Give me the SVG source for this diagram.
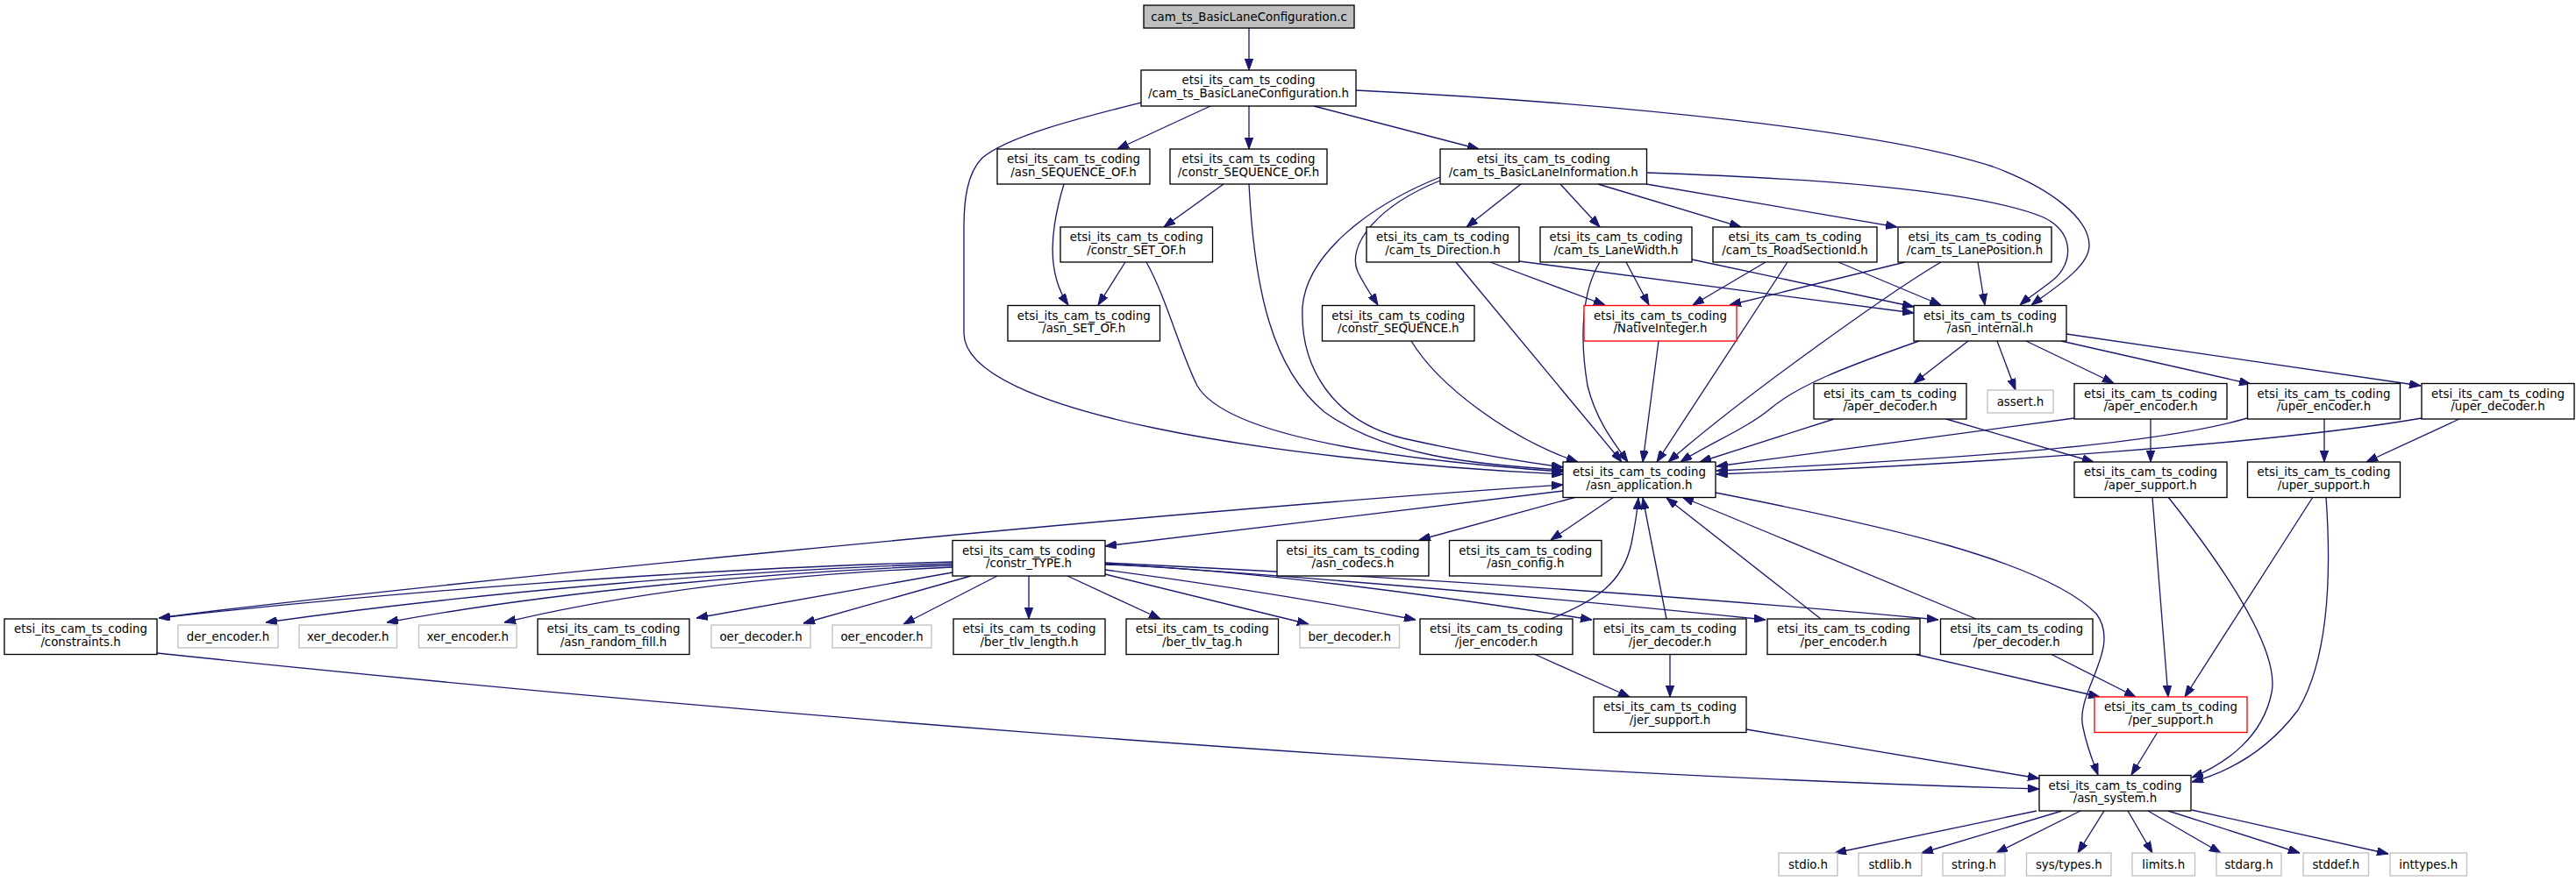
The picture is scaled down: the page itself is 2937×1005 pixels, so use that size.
<svg xmlns="http://www.w3.org/2000/svg" width="2937" height="1005" viewBox="0 0 2937 1005">
<style>
rect{fill:#fff;stroke:#000;stroke-width:1.33}
.gray rect{stroke:#bfbfbf}
.red rect{stroke:#ff0000}
.root rect{fill:#bfbfbf}
text{font-family:"DejaVu Sans",sans-serif;font-size:13.33px;text-anchor:middle;fill:#000}
#edges path{fill:none;stroke:#191970;stroke-width:1.33;marker-end:url(#ah)}
</style>
<defs>
<marker id="ah" viewBox="0 0 13 9.4" refX="13" refY="4.7" markerWidth="13" markerHeight="9.4" orient="auto" markerUnits="userSpaceOnUse"><path d="M0,0 L13,4.7 L0,9.4 Z" fill="#191970" stroke="#191970" stroke-width="1"/></marker>
</defs>
<rect x="0" y="0" width="2937" height="1005" style="fill:#fff;stroke:none"/>
<g id="edges">
<path d="M1424,32 L1424,80"/>
<path d="M1380,121 L1274,170"/>
<path d="M1424,121 L1424,170"/>
<path d="M1498,121 L1686,170"/>
<path d="M1301,117 C1230,135 1150,155 1120,180 C1102,198 1099,230 1099,260 L1099,380 C1099,470 1450,525 1782,541"/>
<path d="M1546,103 C1850,118 2150,150 2272,190 C2340,215 2382,250 2382,280 C2382,305 2340,330 2316,348"/>
<path d="M1213,210 C1198,260 1192,310 1218,348"/>
<path d="M1395,210 L1327,259"/>
<path d="M1424,210 C1430,330 1450,420 1510,470 C1580,520 1680,530 1782,536"/>
<path d="M1283,299 L1252,348"/>
<path d="M1307,299 C1330,340 1345,400 1365,440 C1400,500 1600,525 1782,538"/>
<path d="M1642,202 C1560,235 1490,290 1485,350 C1482,420 1520,480 1600,500 C1680,518 1730,526 1782,533"/>
<path d="M1642,206 C1570,235 1535,280 1548,310 C1558,330 1566,340 1571,348"/>
<path d="M1734,210 L1672,259"/>
<path d="M1779,210 L1824,259"/>
<path d="M1822,210 L1985,259"/>
<path d="M1877,210 L2163,259"/>
<path d="M1877,197 C2050,203 2250,215 2330,248 C2365,265 2365,300 2340,320 C2325,332 2312,340 2303,348"/>
<path d="M1699,299 L1830,348"/>
<path d="M1732,298 L2182,357"/>
<path d="M1660,299 L1849,527"/>
<path d="M1854,299 L1880,348"/>
<path d="M1929,296 L2182,350"/>
<path d="M1824,299 C1805,330 1800,380 1810,440 C1820,480 1840,505 1856,527"/>
<path d="M2013,299 L1930,348"/>
<path d="M2096,299 L2213,348"/>
<path d="M2038,299 L1889,527"/>
<path d="M2172,299 L1972,348"/>
<path d="M2255,299 L2263,348"/>
<path d="M2213,299 C2160,330 1990,450 1902,527"/>
<path d="M1609,389 C1640,440 1720,500 1799,527"/>
<path d="M1891,389 L1873,527"/>
<path d="M2188,389 C2100,420 2050,440 2020,465 C1990,490 1950,505 1916,527"/>
<path d="M2244,389 L2182,437"/>
<path d="M2277,389 L2298,445"/>
<path d="M2310,389 L2410,437"/>
<path d="M2350,389 L2566,438"/>
<path d="M2356,381 L2760,440"/>
<path d="M2091,478 L1938,527"/>
<path d="M2219,478 L2387,527"/>
<path d="M2365,477 L1957,532"/>
<path d="M2452,478 L2452,527"/>
<path d="M2562,477 C2450,510 2200,525 1957,537"/>
<path d="M2650,478 L2650,527"/>
<path d="M2761,477 C2600,505 2250,530 1957,541"/>
<path d="M2804,478 L2698,527"/>
<path d="M2454,567 L2472,795"/>
<path d="M2472,567 C2530,640 2600,740 2590,790 C2580,840 2540,870 2499,887"/>
<path d="M2637,567 L2491,795"/>
<path d="M2652,567 C2660,680 2650,760 2620,810 C2590,850 2550,878 2499,892"/>
<path d="M1782,560 L1260,623"/>
<path d="M1797,567 L1618,616"/>
<path d="M1840,567 L1768,616"/>
<path d="M181,705 C400,675 1300,585 1782,553"/>
<path d="M1956,562 C2150,600 2330,640 2390,700 C2420,740 2365,790 2375,830 C2380,855 2387,870 2392,884"/>
<path d="M1086,641 C800,648 450,675 181,705"/>
<path d="M1086,643 C850,650 550,675 303,710"/>
<path d="M1086,645 C880,652 630,675 441,710"/>
<path d="M1086,647 C900,655 720,675 575,710"/>
<path d="M1086,653 L794,705"/>
<path d="M1107,657 L916,711"/>
<path d="M1137,657 L1030,712"/>
<path d="M1173,657 L1173,706"/>
<path d="M1217,657 L1323,706"/>
<path d="M1260,655 L1492,712"/>
<path d="M1260,650 Q1450,675 1614,707"/>
<path d="M1260,644 Q1450,650 1815,707"/>
<path d="M1260,643 Q1600,665 2013,707"/>
<path d="M1260,642 Q1800,668 2210,707"/>
<path d="M1749,746 L1858,795"/>
<path d="M1904,746 L1904,795"/>
<path d="M1768,706 C1820,685 1850,665 1860,620 C1865,595 1867,580 1868,568"/>
<path d="M1900,706 L1873,568"/>
<path d="M2076,706 L1900,568"/>
<path d="M2253,706 L1918,567"/>
<path d="M2182,746 L2394,795"/>
<path d="M2338,746 L2435,795"/>
<path d="M1991,832 L2325,888"/>
<path d="M2460,835 L2430,884"/>
<path d="M179,745 C700,800 1600,880 2325,900"/>
<path d="M2322,925 L2092,973"/>
<path d="M2351,925 L2191,973"/>
<path d="M2372,925 L2276,973"/>
<path d="M2399,925 L2369,973"/>
<path d="M2426,925 L2454,973"/>
<path d="M2449,925 L2532,973"/>
<path d="M2472,925 L2622,973"/>
<path d="M2499,924 L2723,974"/>
</g>
<g id="n0" class="root"><rect x="1304" y="6" width="240" height="26"/><text x="1424" y="23.5">cam_ts_BasicLaneConfiguration.c</text></g>
<g id="n1"><rect x="1301" y="80" width="245" height="41"/><text x="1423.5" y="96">etsi_its_cam_ts_coding</text><text x="1423.5" y="110.5">/cam_ts_BasicLaneConfiguration.h</text></g>
<g id="n2"><rect x="1137" y="170" width="174" height="40"/><text x="1224" y="186">etsi_its_cam_ts_coding</text><text x="1224" y="200.5">/asn_SEQUENCE_OF.h</text></g>
<g id="n3"><rect x="1334" y="170" width="179" height="40"/><text x="1423.5" y="186">etsi_its_cam_ts_coding</text><text x="1423.5" y="200.5">/constr_SEQUENCE_OF.h</text></g>
<g id="n4"><rect x="1642" y="170" width="235.5" height="40"/><text x="1759.75" y="186">etsi_its_cam_ts_coding</text><text x="1759.75" y="200.5">/cam_ts_BasicLaneInformation.h</text></g>
<g id="n5"><rect x="1209" y="259" width="173.5" height="40"/><text x="1295.75" y="275">etsi_its_cam_ts_coding</text><text x="1295.75" y="289.5">/constr_SET_OF.h</text></g>
<g id="n6"><rect x="1558" y="259" width="174" height="40"/><text x="1645" y="275">etsi_its_cam_ts_coding</text><text x="1645" y="289.5">/cam_ts_Direction.h</text></g>
<g id="n7"><rect x="1756" y="259" width="173" height="40"/><text x="1842.5" y="275">etsi_its_cam_ts_coding</text><text x="1842.5" y="289.5">/cam_ts_LaneWidth.h</text></g>
<g id="n8"><rect x="1953" y="259" width="187" height="40"/><text x="2046.5" y="275">etsi_its_cam_ts_coding</text><text x="2046.5" y="289.5">/cam_ts_RoadSectionId.h</text></g>
<g id="n9"><rect x="2164" y="259" width="175" height="40"/><text x="2251.5" y="275">etsi_its_cam_ts_coding</text><text x="2251.5" y="289.5">/cam_ts_LanePosition.h</text></g>
<g id="n10"><rect x="1149" y="348.5" width="173.5" height="40.5"/><text x="1235.75" y="364.5">etsi_its_cam_ts_coding</text><text x="1235.75" y="379">/asn_SET_OF.h</text></g>
<g id="n11"><rect x="1507.5" y="348.5" width="173.5" height="40.5"/><text x="1594.25" y="364.5">etsi_its_cam_ts_coding</text><text x="1594.25" y="379">/constr_SEQUENCE.h</text></g>
<g id="n12" class="red"><rect x="1806" y="348.5" width="174" height="40.5"/><text x="1893" y="364.5">etsi_its_cam_ts_coding</text><text x="1893" y="379">/NativeInteger.h</text></g>
<g id="n13"><rect x="2182" y="348.5" width="174" height="40.5"/><text x="2269" y="364.5">etsi_its_cam_ts_coding</text><text x="2269" y="379">/asn_internal.h</text></g>
<g id="n14"><rect x="1782" y="527" width="174" height="40.5"/><text x="1869" y="543">etsi_its_cam_ts_coding</text><text x="1869" y="557.5">/asn_application.h</text></g>
<g id="n15"><rect x="2068" y="437.5" width="174" height="40.5"/><text x="2155" y="453.5">etsi_its_cam_ts_coding</text><text x="2155" y="468">/aper_decoder.h</text></g>
<g id="n16" class="gray"><rect x="2266" y="445" width="75" height="26"/><text x="2303.5" y="462.5">assert.h</text></g>
<g id="n17"><rect x="2365" y="437.5" width="174" height="40.5"/><text x="2452" y="453.5">etsi_its_cam_ts_coding</text><text x="2452" y="468">/aper_encoder.h</text></g>
<g id="n18"><rect x="2562.5" y="437.5" width="174" height="40.5"/><text x="2649.5" y="453.5">etsi_its_cam_ts_coding</text><text x="2649.5" y="468">/uper_encoder.h</text></g>
<g id="n19"><rect x="2761" y="437.5" width="174" height="40.5"/><text x="2848" y="453.5">etsi_its_cam_ts_coding</text><text x="2848" y="468">/uper_decoder.h</text></g>
<g id="n20"><rect x="2365" y="527" width="174" height="40.5"/><text x="2452" y="543">etsi_its_cam_ts_coding</text><text x="2452" y="557.5">/aper_support.h</text></g>
<g id="n21"><rect x="2562.5" y="527" width="174" height="40.5"/><text x="2649.5" y="543">etsi_its_cam_ts_coding</text><text x="2649.5" y="557.5">/uper_support.h</text></g>
<g id="n22"><rect x="1086" y="616.5" width="174" height="40.5"/><text x="1173" y="632.5">etsi_its_cam_ts_coding</text><text x="1173" y="647">/constr_TYPE.h</text></g>
<g id="n23"><rect x="1456" y="616.5" width="173" height="40.5"/><text x="1542.5" y="632.5">etsi_its_cam_ts_coding</text><text x="1542.5" y="647">/asn_codecs.h</text></g>
<g id="n24"><rect x="1652.5" y="616.5" width="173.5" height="40.5"/><text x="1739.25" y="632.5">etsi_its_cam_ts_coding</text><text x="1739.25" y="647">/asn_config.h</text></g>
<g id="n25"><rect x="5" y="706" width="174" height="40.5"/><text x="92" y="722">etsi_its_cam_ts_coding</text><text x="92" y="736.5">/constraints.h</text></g>
<g id="n26" class="gray"><rect x="203" y="713" width="114" height="26"/><text x="260" y="730.5">der_encoder.h</text></g>
<g id="n27" class="gray"><rect x="341" y="713" width="111.5" height="26"/><text x="396.75" y="730.5">xer_decoder.h</text></g>
<g id="n28" class="gray"><rect x="477.5" y="713" width="111.5" height="26"/><text x="533.25" y="730.5">xer_encoder.h</text></g>
<g id="n29"><rect x="613" y="706" width="173" height="40.5"/><text x="699.5" y="722">etsi_its_cam_ts_coding</text><text x="699.5" y="736.5">/asn_random_fill.h</text></g>
<g id="n30" class="gray"><rect x="811" y="713" width="113" height="26"/><text x="867.5" y="730.5">oer_decoder.h</text></g>
<g id="n31" class="gray"><rect x="949" y="713" width="113" height="26"/><text x="1005.5" y="730.5">oer_encoder.h</text></g>
<g id="n32"><rect x="1087" y="706" width="173" height="40.5"/><text x="1173.5" y="722">etsi_its_cam_ts_coding</text><text x="1173.5" y="736.5">/ber_tlv_length.h</text></g>
<g id="n33"><rect x="1284" y="706" width="173.5" height="40.5"/><text x="1370.75" y="722">etsi_its_cam_ts_coding</text><text x="1370.75" y="736.5">/ber_tlv_tag.h</text></g>
<g id="n34" class="gray"><rect x="1482" y="713" width="113.5" height="26"/><text x="1538.75" y="730.5">ber_decoder.h</text></g>
<g id="n35"><rect x="1619" y="706" width="174" height="40.5"/><text x="1706" y="722">etsi_its_cam_ts_coding</text><text x="1706" y="736.5">/jer_encoder.h</text></g>
<g id="n36"><rect x="1817" y="706" width="174" height="40.5"/><text x="1904" y="722">etsi_its_cam_ts_coding</text><text x="1904" y="736.5">/jer_decoder.h</text></g>
<g id="n37"><rect x="2015" y="706" width="174" height="40.5"/><text x="2102" y="722">etsi_its_cam_ts_coding</text><text x="2102" y="736.5">/per_encoder.h</text></g>
<g id="n38"><rect x="2212.5" y="706" width="173.5" height="40.5"/><text x="2299.25" y="722">etsi_its_cam_ts_coding</text><text x="2299.25" y="736.5">/per_decoder.h</text></g>
<g id="n39"><rect x="1817" y="795" width="174" height="40.5"/><text x="1904" y="811">etsi_its_cam_ts_coding</text><text x="1904" y="825.5">/jer_support.h</text></g>
<g id="n40" class="red"><rect x="2388" y="795" width="174" height="40.5"/><text x="2475" y="811">etsi_its_cam_ts_coding</text><text x="2475" y="825.5">/per_support.h</text></g>
<g id="n41"><rect x="2325" y="884.5" width="173" height="40.5"/><text x="2411.5" y="900.5">etsi_its_cam_ts_coding</text><text x="2411.5" y="915">/asn_system.h</text></g>
<g id="n42" class="gray"><rect x="2028" y="973" width="67" height="26"/><text x="2061.5" y="990.5">stdio.h</text></g>
<g id="n43" class="gray"><rect x="2119" y="973" width="72" height="26"/><text x="2155" y="990.5">stdlib.h</text></g>
<g id="n44" class="gray"><rect x="2215" y="973" width="71" height="26"/><text x="2250.5" y="990.5">string.h</text></g>
<g id="n45" class="gray"><rect x="2310.5" y="973" width="96.5" height="26"/><text x="2358.75" y="990.5">sys/types.h</text></g>
<g id="n46" class="gray"><rect x="2431" y="973" width="71.5" height="26"/><text x="2466.75" y="990.5">limits.h</text></g>
<g id="n47" class="gray"><rect x="2527" y="973" width="74" height="26"/><text x="2564" y="990.5">stdarg.h</text></g>
<g id="n48" class="gray"><rect x="2626" y="973" width="74.5" height="26"/><text x="2663.25" y="990.5">stddef.h</text></g>
<g id="n49" class="gray"><rect x="2725" y="973" width="87.5" height="26"/><text x="2768.75" y="990.5">inttypes.h</text></g>
</svg>
